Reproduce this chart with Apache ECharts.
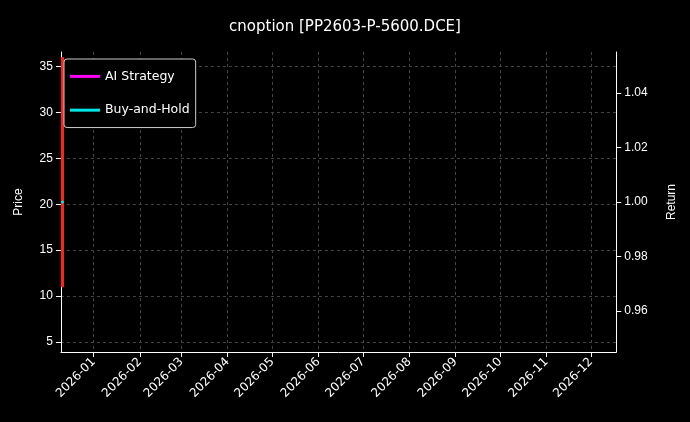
<html><head><script src="https://cdn.jsdelivr.net/npm/echarts@6/dist/echarts.min.js"></script></head>
<body style="margin:0;background:#000"><div id="c" style="width:690px;height:422px"></div>
<script>
const dates=['2025-12-11'];
const candle=[[36,11,11,36]]; // open, close, low, high
const aiReturn=[1.0];
const bhReturn=[1.0];
const priceTicks=[5,10,15,20,25,30,35];
const returnTicks=[0.96,0.98,1.00,1.02,1.04];
const grid={color:'#444',type:[3,3]};
const ch=echarts.init(document.getElementById('c'));
ch.setOption({backgroundColor:'#000',animation:false,
title:{text:'cnoption [PP2603-P-5600.DCE]',left:'center',top:7,textStyle:{color:'#fff',fontSize:15,fontWeight:'normal',fontFamily:'DejaVu Sans'}},
legend:{left:64,top:59,orient:'vertical',itemWidth:30,itemHeight:3,itemGap:9,backgroundColor:'#000',borderColor:'#ccc',borderWidth:1,borderRadius:3,padding:[5,6],
 textStyle:{color:'#fff',fontSize:12.5,fontFamily:'DejaVu Sans'},data:[{name:'AI Strategy',icon:'rect'},{name:'Buy-and-Hold',icon:'rect'}]},
grid:{left:56,right:70,top:52,bottom:70},
xAxis:{type:'time',min:'2025-12-10',max:'2026-12-18',splitNumber:12,
 axisLine:{lineStyle:{color:'#fff'}},axisTick:{lineStyle:{color:'#fff'}},
 axisLabel:{color:'#fff',rotate:45,fontSize:12,fontFamily:'DejaVu Sans',formatter:'{yyyy}-{MM}',hideOverlap:false},
 splitLine:{show:true,lineStyle:grid},minorTick:{show:false}},
yAxis:[{type:'value',name:'Price',nameLocation:'middle',nameGap:30,nameTextStyle:{color:'#fff',fontSize:12},min:3.9,max:36.6,
 axisLabel:{color:'#fff',fontSize:12,customValues:priceTicks},
 axisTick:{show:true,customValues:priceTicks},
 axisLine:{show:true,lineStyle:{color:'#fff'}},splitLine:{show:true,lineStyle:grid}},
 {type:'value',name:'Return',nameLocation:'middle',nameGap:45,nameTextStyle:{color:'#fff',fontSize:12},min:0.945,max:1.055,
 axisLabel:{color:'#fff',fontSize:12,customValues:returnTicks,formatter:v=>v.toFixed(2)},
 axisTick:{show:true,customValues:returnTicks},
 axisLine:{show:true,lineStyle:{color:'#fff'}},splitLine:{show:false}}],
series:[
 {type:'candlestick',data:dates.map((d,i)=>[d,...candle[i]]),barWidth:3,itemStyle:{color:'#ff2020',color0:'#ff2020',borderColor:'#ff2020',borderColor0:'#ff2020'}},
 {name:'AI Strategy',type:'line',yAxisIndex:1,data:dates.map((d,i)=>[d,aiReturn[i]]),color:'#ff00ff',lineStyle:{width:2},symbol:'none'},
 {name:'Buy-and-Hold',type:'line',yAxisIndex:1,data:dates.map((d,i)=>[d,bhReturn[i]]),color:'#00e5e5',lineStyle:{width:2},symbol:'circle',symbolSize:3}
]});
</script></body></html>
